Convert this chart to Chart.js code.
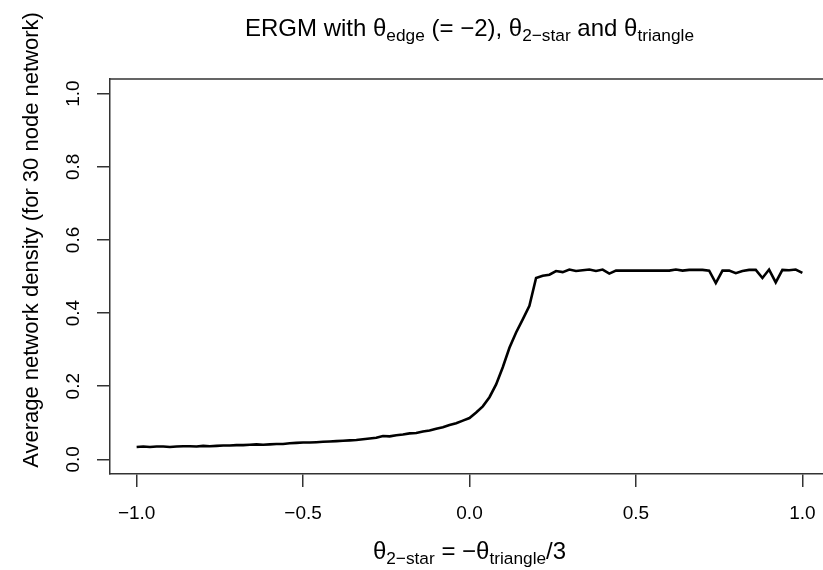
<!DOCTYPE html>
<html><head><meta charset="utf-8">
<script src="https://cdn.jsdelivr.net/npm/chart.js@4.4.0/dist/chart.umd.min.js"></script>
<style>
html,body{margin:0;padding:0;overflow:hidden;background:#fff;width:823px;height:570px;}
#wrap{position:relative;width:835px;height:570px;}
canvas{display:block;}
.lbl{position:absolute;left:0;width:939px;text-align:center;font-family:"Liberation Sans",Arial,sans-serif;color:#000;white-space:nowrap;line-height:1;}
.lbl sub{font-size:0.72em;vertical-align:baseline;position:relative;top:0.3em;}
#yt{position:absolute;left:31px;top:240px;width:600px;height:24px;margin-left:-300px;margin-top:-12px;text-align:center;transform:rotate(-90deg);font-family:"Liberation Sans",Arial,sans-serif;font-size:22px;line-height:24px;color:#000;white-space:nowrap;}
</style></head>
<body><div id="wrap"><canvas id="c" width="835" height="570"></canvas>
<div class="lbl" id="title" style="top:16px;font-size:24px;">ERGM with θ<sub>edge</sub> (= −2), θ<sub>2−star</sub> and θ<sub>triangle</sub></div>
<div class="lbl" id="xt" style="top:539px;font-size:24px;">θ<sub>2−star</sub> = −θ<sub>triangle</sub>/3</div>
<div id="yt"></div>
</div>
<script>
const thetaStar = [
 -1.00,-0.98,-0.96,-0.94,-0.92,-0.90,-0.88,-0.86,-0.84,-0.82,
 -0.80,-0.78,-0.76,-0.74,-0.72,-0.70,-0.68,-0.66,-0.64,-0.62,
 -0.60,-0.58,-0.56,-0.54,-0.52,-0.50,-0.48,-0.46,-0.44,-0.42,
 -0.40,-0.38,-0.36,-0.34,-0.32,-0.30,-0.28,-0.26,-0.24,-0.22,
 -0.20,-0.18,-0.16,-0.14,-0.12,-0.10,-0.08,-0.06,-0.04,-0.02,
  0.00, 0.02, 0.04, 0.06, 0.08, 0.10, 0.12, 0.14, 0.16, 0.18,
  0.20, 0.22, 0.24, 0.26, 0.28, 0.30, 0.32, 0.34, 0.36, 0.38,
  0.40, 0.42, 0.44, 0.46, 0.48, 0.50, 0.52, 0.54, 0.56, 0.58,
  0.60, 0.62, 0.64, 0.66, 0.68, 0.70, 0.72, 0.74, 0.76, 0.78,
  0.80, 0.82, 0.84, 0.86, 0.88, 0.90, 0.92, 0.94, 0.96, 0.98,
  1.00
];
const avgDensity = [
 0.034,0.035,0.034,0.035,0.035,0.034,0.035,0.036,0.036,0.035,
 0.037,0.036,0.037,0.038,0.038,0.039,0.039,0.040,0.041,0.040,
 0.041,0.042,0.042,0.044,0.045,0.046,0.046,0.047,0.048,0.049,
 0.050,0.051,0.052,0.053,0.055,0.057,0.059,0.064,0.063,0.066,
 0.068,0.071,0.072,0.076,0.079,0.084,0.088,0.094,0.099,0.106,
 0.113,0.128,0.145,0.170,0.205,0.252,0.305,0.347,0.383,0.420,
 0.496,0.502,0.505,0.515,0.512,0.519,0.515,0.517,0.519,0.515,
 0.519,0.508,0.516,0.516,0.516,0.516,0.516,0.516,0.516,0.516,
 0.516,0.519,0.516,0.518,0.518,0.518,0.516,0.482,0.516,0.516,
 0.509,0.515,0.518,0.518,0.496,0.519,0.484,0.518,0.517,0.519,
 0.510
];
const xTickValues = [-1.0, -0.5, 0.0, 0.5, 1.0];
const yTickValues = [0.0, 0.2, 0.4, 0.6, 0.8, 1.0];
const yAxisTitle = 'Average network density (for 30 node network)';

document.getElementById('yt').textContent = yAxisTitle;

const FONT = '"Liberation Sans", Arial, sans-serif';
const fmt = v => (v < 0 ? '\u2212' : '') + Math.abs(v).toFixed(1);

const boxPlugin = {
  id: 'box',
  afterDraw(chart) {
    const {ctx, chartArea: a} = chart;
    ctx.save();
    ctx.strokeStyle = '#333';
    ctx.lineWidth = 1.5;
    ctx.beginPath();
    ctx.moveTo(a.left, a.top);
    ctx.lineTo(a.right, a.top);
    ctx.lineTo(a.right, a.bottom);
    ctx.stroke();
    ctx.restore();
  }
};

new Chart(document.getElementById('c'), {
  type: 'scatter',
  data: {
    datasets: [{
      data: thetaStar.map((x, i) => ({x: x, y: avgDensity[i]})),
      showLine: true,
      borderColor: '#000',
      borderWidth: 2.6,
      pointRadius: 0,
      tension: 0,
      fill: false
    }]
  },
  options: {
    responsive: false,
    animation: false,
    devicePixelRatio: 1,
    layout: {padding: {top: 79, right: 6, bottom: 0, left: 0}},
    plugins: {legend: {display: false}, tooltip: {enabled: false}, title: {display: false}},
    scales: {
      x: {
        type: 'linear', min: -1.08, max: 1.08,
        afterBuildTicks: s => { s.ticks = xTickValues.map(v => ({value: v})); },
        afterFit: s => { s.height = 96; },
        grid: {display: true, drawOnChartArea: false, drawTicks: true, tickLength: 13, color: '#333', lineWidth: 1.5},
        border: {display: true, color: '#333', width: 1.5},
        ticks: {color: '#000', font: {family: FONT, size: 19}, padding: 15, maxRotation: 0, callback: v => fmt(v)}
      },
      y: {
        type: 'linear', min: -0.04, max: 1.04,
        afterBuildTicks: s => { s.ticks = yTickValues.map(v => ({value: v})); },
        afterFit: s => { s.width = 110; },
        grid: {display: true, drawOnChartArea: false, drawTicks: true, tickLength: 13, color: '#333', lineWidth: 1.5},
        border: {display: true, color: '#333', width: 1.5},
        ticks: {color: '#000', font: {family: FONT, size: 19}, padding: 10, minRotation: 90, maxRotation: 90, crossAlign: 'center', callback: v => fmt(v)}
      }
    }
  },
  plugins: [boxPlugin]
});
</script>
</body></html>
